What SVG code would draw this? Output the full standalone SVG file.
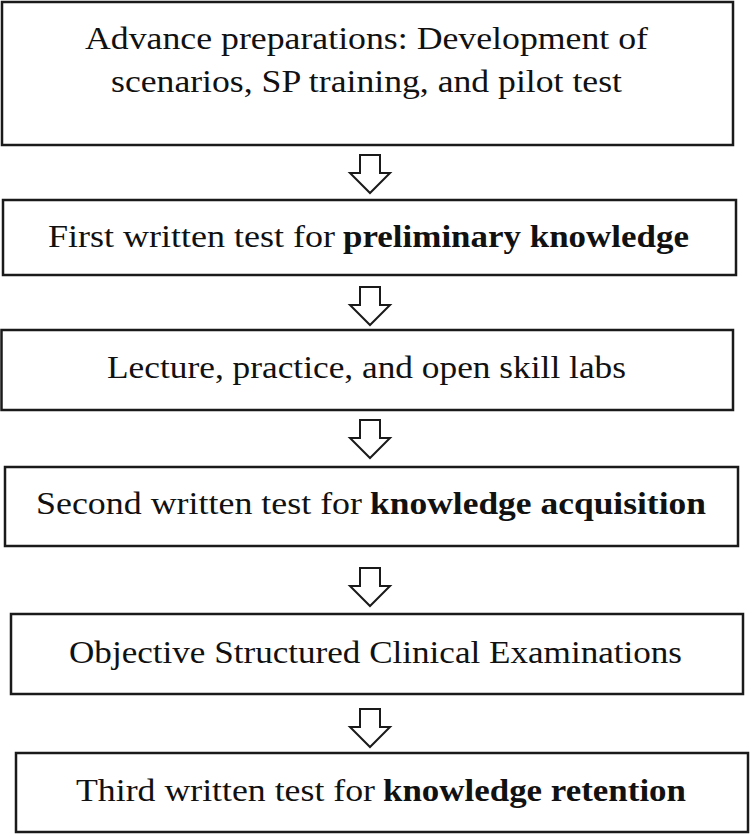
<svg xmlns="http://www.w3.org/2000/svg" width="750" height="835" viewBox="0 0 750 835">
  <style>
    .box { fill: #ffffff; stroke: #1a1a1a; stroke-width: 2.5; }
    .arrow { fill: #ffffff; stroke: #1a1a1a; stroke-width: 2; stroke-linejoin: miter; }
    .t { font-family: "Liberation Serif", "Times New Roman", serif; font-size: 32.5px; fill: #111111; }
    .b { font-weight: bold; }
  </style>
  <rect width="750" height="835" fill="#ffffff"/>
  <defs>
    <path id="downArrow" d="M -10 0 L 10 0 L 10 18 L 20 18 L 0 38 L -20 18 L -10 18 Z"/>
  </defs>

  <g id="connectors">
    <use href="#downArrow" class="arrow" x="370" y="155"/>
    <use href="#downArrow" class="arrow" x="370" y="287"/>
    <use href="#downArrow" class="arrow" x="370" y="420"/>
    <use href="#downArrow" class="arrow" x="370" y="568"/>
    <use href="#downArrow" class="arrow" x="370" y="709"/>
  </g>

  <g id="node1">
    <rect class="box" x="2" y="2" width="731" height="143"/>
    <text class="t" x="85" y="49" textLength="563" lengthAdjust="spacingAndGlyphs">Advance preparations: Development of</text>
    <text class="t" x="111" y="92" textLength="511" lengthAdjust="spacingAndGlyphs">scenarios, SP training, and pilot test</text>
  </g>

  <g id="node2">
    <rect class="box" x="3" y="200" width="733" height="75"/>
    <text class="t" x="48" y="247" textLength="287" lengthAdjust="spacingAndGlyphs">First written test for</text>
    <text class="t b" x="343" y="247" textLength="346" lengthAdjust="spacingAndGlyphs">preliminary knowledge</text>
  </g>

  <g id="node3">
    <rect class="box" x="1.5" y="330" width="731.5" height="80"/>
    <text class="t" x="107" y="378" textLength="519" lengthAdjust="spacingAndGlyphs">Lecture, practice, and open skill labs</text>
  </g>

  <g id="node4">
    <rect class="box" x="5" y="467" width="733" height="79"/>
    <text class="t" x="36" y="514" textLength="326" lengthAdjust="spacingAndGlyphs">Second written test for</text>
    <text class="t b" x="370" y="514" textLength="336" lengthAdjust="spacingAndGlyphs">knowledge acquisition</text>
  </g>

  <g id="node5">
    <rect class="box" x="11" y="614" width="732" height="80"/>
    <text class="t" x="69" y="663" textLength="613" lengthAdjust="spacingAndGlyphs">Objective Structured Clinical Examinations</text>
  </g>

  <g id="node6">
    <rect class="box" x="16" y="753" width="732" height="79"/>
    <text class="t" x="76" y="801" textLength="299" lengthAdjust="spacingAndGlyphs">Third written test for</text>
    <text class="t b" x="383" y="801" textLength="303" lengthAdjust="spacingAndGlyphs">knowledge retention</text>
  </g>
</svg>
